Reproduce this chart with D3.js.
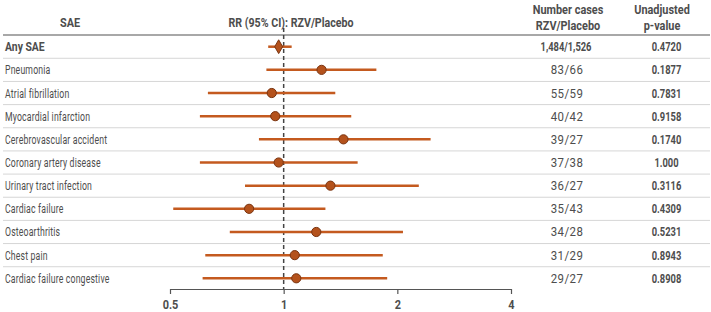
<!DOCTYPE html>
<html><head><meta charset="utf-8">
<script src="https://cdn.jsdelivr.net/npm/d3@7"></script>
<style>
html,body{margin:0;padding:0;background:#fff;}
svg{display:block;font-family:"Roboto","Liberation Sans",sans-serif;}
</style></head>
<body><div id="chart"></div>
<script>
const categories = ["Any SAE","Pneumonia","Atrial fibrillation","Myocardial infarction","Cerebrovascular accident","Coronary artery disease","Urinary tract infection","Cardiac failure","Osteoarthritis","Chest pain","Cardiac failure congestive"];
const rr      = [0.97, 1.26, 0.93, 0.95, 1.44, 0.97, 1.33, 0.81, 1.22, 1.07, 1.08];
const ciLow   = [0.91, 0.90, 0.63, 0.60, 0.86, 0.60, 0.79, 0.51, 0.72, 0.62, 0.61];
const ciHigh  = [1.05, 1.76, 1.37, 1.51, 2.45, 1.57, 2.28, 1.29, 2.07, 1.83, 1.88];
const cases   = ["1,484/1,526","83/66","55/59","40/42","39/27","37/38","36/27","35/43","34/28","31/29","29/27"];
const pvalues = ["0.4720","0.1877","0.7831","0.9158","0.1740","1.000","0.3116","0.4309","0.5231","0.8943","0.8908"];
const tickValues = [0.5, 1, 2, 4];
const tickLabels = ["0.5","1","2","4"];

const W = 711, H = 312;
const svg = d3.select("#chart").append("svg").attr("width", W).attr("height", H);

const x = d3.scaleLog().base(2).domain([0.5, 4]).range([170, 511]);
const y = d3.scalePoint().domain(categories).range([46.7, 278.3]);
const step = y.step();

const txt = "#4d4d4d";
const orange = "#c45a1f";

function label(g, px, py, str, o) {
  return g.append("text")
    .attr("transform", `translate(${px},${py}) scale(${o.sx},1)`)
    .attr("text-anchor", o.anchor || "start")
    .attr("font-size", o.size || 13)
    .attr("font-weight", o.bold ? "bold" : "normal")
    .attr("letter-spacing", o.ls || 0)
    .attr("fill", txt)
    .text(str);
}

// header
const hdr = svg.append("g");
label(hdr, 70, 27, "SAE", {sx: 0.84, anchor: "middle", bold: true, size: 13});
label(hdr, 291, 27, "RR (95% CI): RZV/Placebo", {sx: 0.82, anchor: "middle", bold: true, size: 13});
label(hdr, 568, 14, "Number cases", {sx: 0.84, anchor: "middle", bold: true, size: 13});
label(hdr, 568, 30, "RZV/Placebo", {sx: 0.84, anchor: "middle", bold: true, size: 13});
label(hdr, 662, 14, "Unadjusted", {sx: 0.84, anchor: "middle", bold: true, size: 13});
label(hdr, 662, 30, "p-value", {sx: 0.84, anchor: "middle", bold: true, size: 13});

svg.append("line").attr("x1", 3).attr("x2", 710).attr("y1", 35).attr("y2", 35)
  .attr("stroke", "#a8a8a8").attr("stroke-width", 2);

// row separators
categories.slice(0, -1).forEach(c => {
  svg.append("line").attr("x1", 3).attr("x2", 710)
    .attr("y1", y(c) + step / 2).attr("y2", y(c) + step / 2)
    .attr("stroke", "#d6d6d6").attr("stroke-width", 1);
});

// reference line
svg.append("line").attr("x1", x(1)).attr("x2", x(1)).attr("y1", 28).attr("y2", 289)
  .attr("stroke", "#444").attr("stroke-width", 1.5).attr("stroke-dasharray", "4,3");

// CI lines
svg.append("g").selectAll("line").data(categories).join("line")
  .attr("x1", (d, i) => x(ciLow[i])).attr("x2", (d, i) => x(ciHigh[i]))
  .attr("y1", d => y(d)).attr("y2", d => y(d))
  .attr("stroke", orange).attr("stroke-width", 2.5);

// markers
categories.forEach((c, i) => {
  if (i === 0) {
    svg.append("path").attr("d", d3.symbol(d3.symbolDiamond, 55)())
      .attr("transform", `translate(${x(rr[i])},${y(c)})`)
      .attr("fill", "#b4521c").attr("stroke", "#7a3410").attr("stroke-width", 1);
  } else {
    svg.append("circle").attr("cx", x(rr[i])).attr("cy", y(c)).attr("r", 4.6)
      .attr("fill", "#b4521c").attr("stroke", "#7a3410").attr("stroke-width", 1);
  }
});

// row texts
const rows = svg.append("g");
categories.forEach((c, i) => {
  const yy = y(c) + 4.5;
  if (i === 0) {
    label(rows, 5, yy, c, {sx: 0.8, bold: true, size: 13});
    label(rows, 566, yy, cases[i], {sx: 0.72, anchor: "middle", bold: true, size: 13});
  } else {
    label(rows, 5, yy, c, {sx: 0.67, size: 13, ls: 0.25});
    label(rows, 567, yy, cases[i], {sx: 0.88, anchor: "middle", size: 13, ls: 0.5});
  }
  label(rows, 666.5, yy, pvalues[i], {sx: 0.72, anchor: "middle", bold: true, size: 13});
});

// axis
const axis = d3.axisBottom(x).tickValues(tickValues).tickFormat((d, i) => tickLabels[i]).tickSize(5).tickSizeOuter(0);
const ag = svg.append("g").attr("transform", "translate(0,289)").call(axis);
ag.select(".domain").attr("stroke", "#555").attr("stroke-width", 1.2);
ag.selectAll(".tick line").attr("stroke", "#555").attr("stroke-width", 1.2);
ag.selectAll(".tick text").attr("font-size", 13).attr("font-weight", "bold").attr("fill", txt)
  .attr("font-family", "Roboto, sans-serif").attr("dy", "0.9em")
  .attr("transform", "scale(0.84,1)");
</script></body></html>
